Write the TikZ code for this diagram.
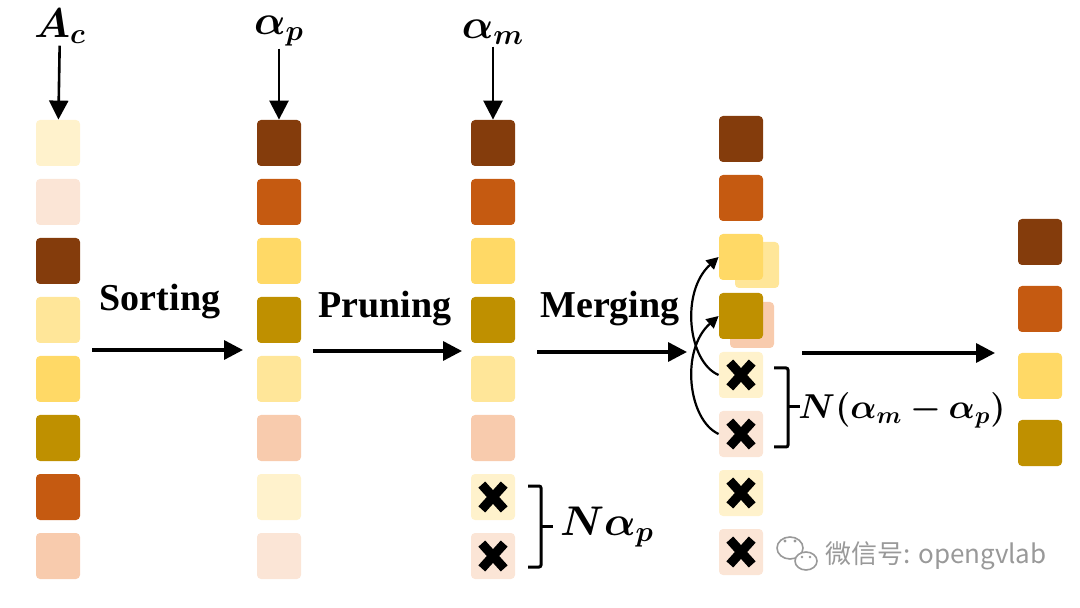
\documentclass[tikz,border=0pt]{standalone}
\usepackage{amsmath,amssymb,bm}
\usepackage{fontspec}
\newfontfamily\labelfont{Liberation Serif}
\newfontfamily\cjkfont{Noto Sans CJK SC}
\usepackage{xcolor}
\usetikzlibrary{arrows.meta}
\definecolor{cream}{HTML}{FFF2CC}
\definecolor{blush}{HTML}{FBE5D6}
\definecolor{umber}{HTML}{843C0C}
\definecolor{straw}{HTML}{FFE699}
\definecolor{gold}{HTML}{FFD966}
\definecolor{ochre}{HTML}{BF9000}
\definecolor{rust}{HTML}{C55A11}
\definecolor{peach}{HTML}{F8CBAD}

\begin{document}
\begin{tikzpicture}[x=0.5pt,y=-0.5pt,>={Triangle[length=9.5pt,width=9.5pt]},
  cell/.style={rounded corners=2pt,minimum width=22pt,minimum height=23pt,inner sep=0pt,fill=#1},
  xcell/.style={cell=#1,path picture={
    \draw[line width=4.6pt] ([shift={(-5.6pt,-6.2pt)}]path picture bounding box.center) -- ([shift={(5.6pt,6.2pt)}]path picture bounding box.center);
    \draw[line width=4.6pt] ([shift={(-5.6pt,6.2pt)}]path picture bounding box.center) -- ([shift={(5.6pt,-6.2pt)}]path picture bounding box.center);}},
  math/.style={font=\fontsize{19.5}{23}\selectfont,inner sep=1pt},
  step name/.style={font=\labelfont\bfseries\fontsize{19}{23}\selectfont}]
\useasboundingbox (0,0) rectangle (1080,608);
% columns of tokens
\foreach \c [count=\i] in {cream,blush,umber,straw,gold,ochre,rust,peach}
  \node[cell=\c] (a\i) at (58,{84+59*\i}) {};
\foreach \c [count=\i] in {umber,rust,gold,ochre,straw,peach,cream,blush}
  \node[cell=\c] (b\i) at (279,{84+59*\i}) {};
\foreach \c/\s [count=\i] in {umber/cell,rust/cell,gold/cell,ochre/cell,straw/cell,peach/cell,cream/xcell,blush/xcell}
  \node[\s=\c] (c\i) at (493,{84+59*\i}) {};
\node[cell=straw] (g3) at (757,265) {};
\node[cell=peach] (g4) at (752,325) {};
\foreach \c/\s [count=\i] in {umber/cell,rust/cell,gold/cell,ochre/cell,cream/xcell,blush/xcell,cream/xcell,blush/xcell}
  \node[\s=\c] (d\i) at (741,{80+59*\i}) {};
\foreach \c [count=\i] in {umber,rust,gold,ochre}
  \node[cell=\c] (e\i) at (1040,{175+67*\i}) {};
% ratios on top
\node[math] (lA) at (60,26) {$\bm{A_c}$};
\node[math] (lP) at (279,31) {$\bm{\alpha_p}$};
\node[math] (lM) at (493,32) {$\bm{\alpha_m}$};
\draw[->,line width=1.3pt] (lA) -- (a1);
\draw[->,line width=1.3pt] (lP) -- (b1);
\draw[->,line width=1.3pt] (lM) -- (c1);
% steps
\coordinate (s1) at (92,350); \coordinate (s2) at (243,350);
\coordinate (p1) at (313,351); \coordinate (p2) at (462,351);
\coordinate (m1) at (537,352); \coordinate (m2) at (687,352);
\coordinate (f1) at (802,353); \coordinate (f2) at (995,353);
\draw[->,line width=1.7pt] (s1) -- (s2);
\draw[->,line width=1.7pt] (p1) -- (p2);
\draw[->,line width=1.7pt] (m1) -- (m2);
\draw[->,line width=1.7pt] (f1) -- (f2);
\node[step name] (sort) at (160,302) {Sorting};
\node[step name] (prune) at (385,309) {Pruning};
\node[step name] (merge) at (610,309) {Merging};
% merging arcs
\draw[-{Triangle[length=6pt,width=6pt]},line width=1.1pt] (d5.west) .. controls (688,362) and (680,292) .. (d3.west);
\draw[-{Triangle[length=6pt,width=6pt]},line width=1.1pt] (d6.west) .. controls (688,420) and (680,350) .. (d4.west);
% brackets
\draw[line width=1.5pt,rounded corners=1pt] (528,486) -- (541,486) -- (541,567) -- (528,567);
\draw[line width=1.5pt] (541,526) -- (553,526);
\node[math] (nap) at (607,527) {$\bm{N\alpha_p}$};
\draw[line width=1.5pt,rounded corners=1pt] (774,368) -- (788,368) -- (788,447) -- (774,447);
\draw[line width=1.5pt] (788,407) -- (800,407);
\node[math,font=\fontsize{17.5}{21}\selectfont] (nam) at (902,410) {$\bm{N(\alpha_m-\alpha_p)}$};
% watermark
\draw[black!40,fill=white,line width=0.8pt] (790,548) ellipse (13 and 11);
\draw[black!40,fill=white,line width=0.8pt] (806,561) ellipse (11 and 9);
\fill[black!40] (785,541) circle (1.6) (795,541) circle (1.6) (802,557) circle (1.3) (810,557) circle (1.3);
\node[text=black!40,font=\cjkfont\fontsize{13}{15}\selectfont] (wm) at (936,556) {微信号: opengvlab};
\end{tikzpicture}
\end{document}
